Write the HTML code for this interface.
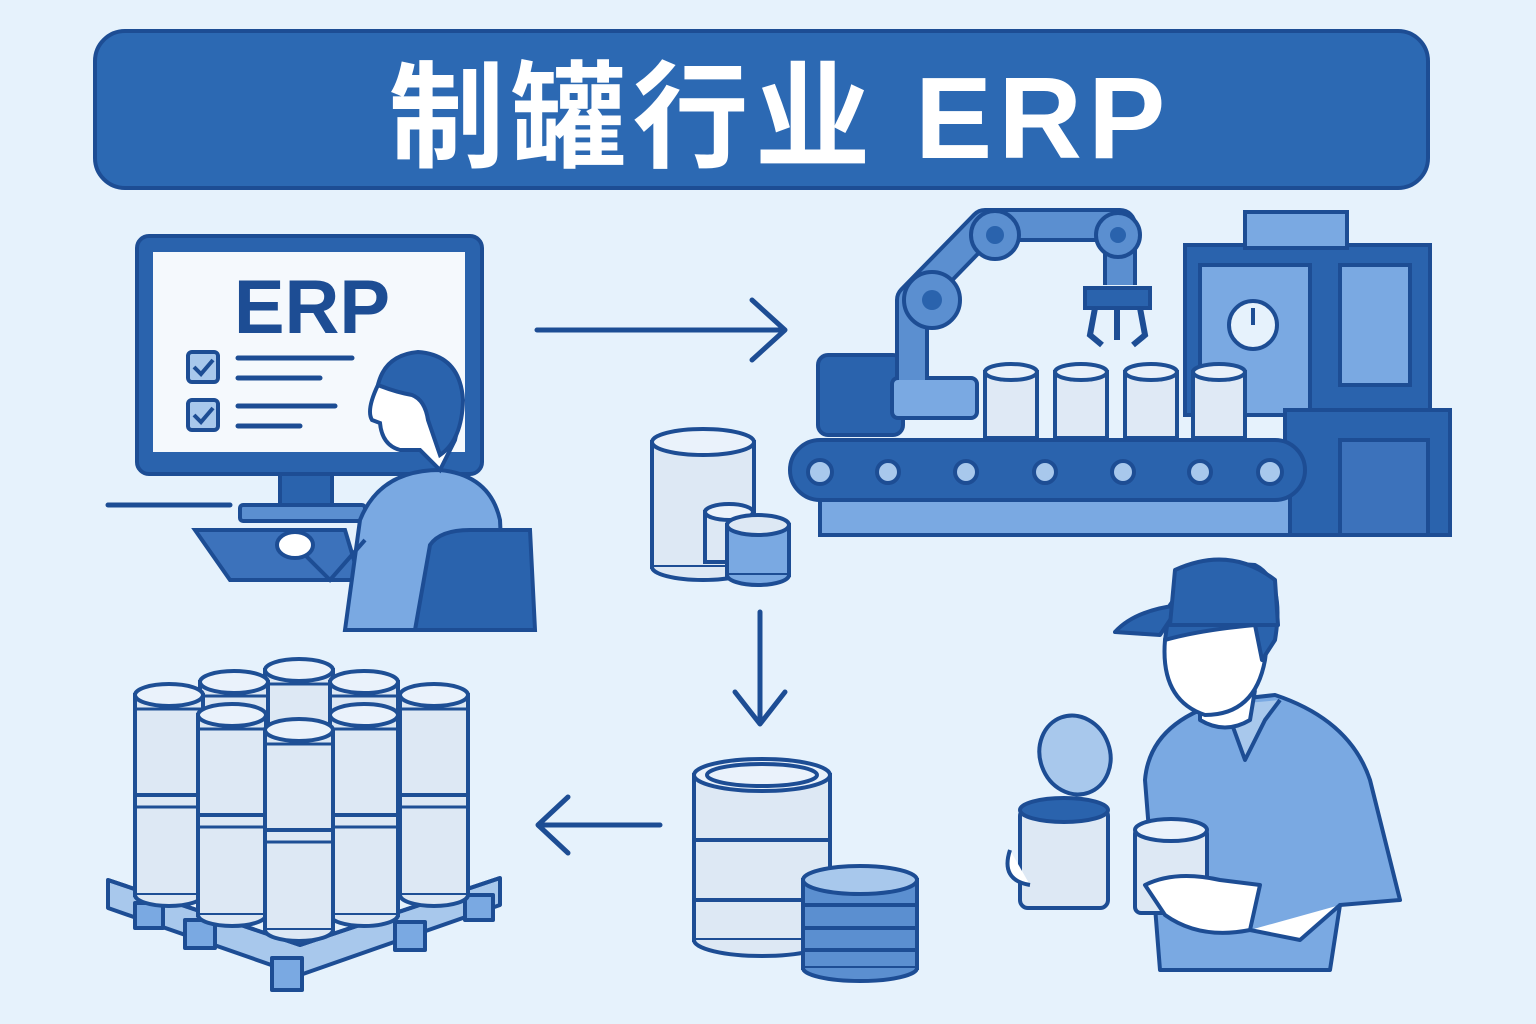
<!DOCTYPE html>
<html><head><meta charset="utf-8"><style>
html,body{margin:0;padding:0;background:#e6f2fc;}
svg{display:block}
</style></head><body>
<svg width="1536" height="1024" viewBox="0 0 1536 1024" xmlns="http://www.w3.org/2000/svg">
<defs>
<g id="can">
 <rect x="0" y="0" width="52" height="66" fill="#dfe9f5" stroke="#1e4f95" stroke-width="4"/>
 <ellipse cx="26" cy="0" rx="26" ry="8" fill="#e9f1fa" stroke="#1e4f95" stroke-width="4"/>
 <path d="M0 66 A26 8 0 0 0 52 66" fill="none" stroke="#1e4f95" stroke-width="4"/>
</g>
<g id="tall">
 <rect x="0" y="0" width="68" height="200" fill="#dde8f4" stroke="#1e4f95" stroke-width="4"/>
 <line x1="0" y1="100" x2="68" y2="100" stroke="#1e4f95" stroke-width="4"/>
 <line x1="0" y1="112" x2="68" y2="112" stroke="#1e4f95" stroke-width="3"/>
 <line x1="0" y1="14" x2="68" y2="14" stroke="#1e4f95" stroke-width="3"/>
 <ellipse cx="34" cy="0" rx="34" ry="11" fill="#eaf2fb" stroke="#1e4f95" stroke-width="4"/>
 <path d="M0 200 A34 11 0 0 0 68 200" fill="#dde8f4" stroke="#1e4f95" stroke-width="4"/>
</g>
</defs>
<rect width="1536" height="1024" fill="#e6f2fc"/>
<!-- title -->
<rect x="95" y="31" width="1333" height="157" rx="30" fill="#2c69b3" stroke="#1d4d94" stroke-width="4"/>
<text x="780" y="158" text-anchor="middle" font-family="'Liberation Sans','Noto Sans CJK SC',sans-serif" font-weight="bold" font-size="116" letter-spacing="6" fill="#fff">制罐行业 ERP</text>

<!-- monitor -->
<rect x="137" y="236" width="345" height="238" rx="12" fill="#2a63ad" stroke="#1d4d94" stroke-width="4"/>
<rect x="153" y="252" width="312" height="200" fill="#f5f9fd"/>
<text x="312" y="333" text-anchor="middle" font-family="'Liberation Sans',sans-serif" font-weight="bold" font-size="76" fill="#1d4d94">ERP</text>
<rect x="188" y="352" width="30" height="30" rx="4" fill="#a8c8ec" stroke="#1d4d94" stroke-width="4"/>
<path d="M194 367 l7 7 l12 -14" fill="none" stroke="#1d4d94" stroke-width="4"/>
<rect x="188" y="400" width="30" height="30" rx="4" fill="#a8c8ec" stroke="#1d4d94" stroke-width="4"/>
<path d="M194 415 l7 7 l12 -14" fill="none" stroke="#1d4d94" stroke-width="4"/>
<g stroke="#1d4d94" stroke-width="5" stroke-linecap="round">
<line x1="238" y1="358" x2="352" y2="358"/><line x1="238" y1="378" x2="320" y2="378"/>
<line x1="238" y1="406" x2="335" y2="406"/><line x1="238" y1="426" x2="300" y2="426"/>
<line x1="108" y1="505" x2="230" y2="505"/>
</g>
<rect x="280" y="474" width="52" height="32" fill="#2a63ad" stroke="#1d4d94" stroke-width="4"/>
<rect x="240" y="505" width="125" height="16" rx="3" fill="#5b8fd0" stroke="#1d4d94" stroke-width="4"/>
<path d="M195 530 L345 530 L360 580 L230 580 Z" fill="#3c72bb" stroke="#1d4d94" stroke-width="4"/>
<!-- person -->
<path d="M345 630 L360 520 Q380 470 440 470 Q490 475 500 520 L505 630 Z" fill="#7aa9e2" stroke="#1d4d94" stroke-width="4"/>
<path d="M365 540 L330 580 L295 545" fill="none" stroke="#1d4d94" stroke-width="4"/>
<ellipse cx="295" cy="545" rx="18" ry="13" fill="#fff" stroke="#1d4d94" stroke-width="4"/>
<path d="M378 385 Q366 410 372 420 L380 423 Q382 445 400 450 L420 450 L440 470 L455 440 Q465 400 455 380 Q440 355 412 358 Q385 360 378 385Z" fill="#fff" stroke="#1d4d94" stroke-width="4"/>
<path d="M378 385 Q385 355 418 352 Q460 355 463 400 Q462 440 440 455 L428 420 Q425 400 412 395 Q395 392 378 385Z" fill="#2a63ad" stroke="#1d4d94" stroke-width="4"/>
<path d="M415 630 L430 545 Q440 530 470 530 L530 530 L535 630 Z" fill="#2a63ad" stroke="#1d4d94" stroke-width="4"/>

<!-- arrows -->
<g fill="none" stroke="#1d4d94" stroke-width="5" stroke-linecap="round" stroke-linejoin="round">
<path d="M537 330 H783 M752 300 L785 330 L752 360"/>
<path d="M760 612 V722 M735 692 L760 724 L785 692"/>
<path d="M660 825 H540 M568 797 L538 825 L568 853"/>
</g>

<!-- machine -->
<rect x="1185" y="245" width="245" height="170" fill="#2a63ad" stroke="#1d4d94" stroke-width="4"/>
<rect x="1245" y="212" width="102" height="36" fill="#7aa9e2" stroke="#1d4d94" stroke-width="4"/>
<rect x="1200" y="265" width="110" height="150" fill="#7aa9e2" stroke="#1d4d94" stroke-width="4"/>
<circle cx="1253" cy="325" r="24" fill="#e6f2fc" stroke="#1d4d94" stroke-width="4"/>
<line x1="1253" y1="325" x2="1253" y2="308" stroke="#1d4d94" stroke-width="4"/>
<rect x="1340" y="265" width="70" height="120" fill="#7aa9e2" stroke="#1d4d94" stroke-width="4"/>
<rect x="1285" y="410" width="165" height="125" fill="#2a63ad" stroke="#1d4d94" stroke-width="4"/>
<rect x="1340" y="440" width="88" height="95" fill="#3c72bb" stroke="#1d4d94" stroke-width="4"/>
<rect x="818" y="355" width="85" height="80" rx="10" fill="#2a63ad" stroke="#1d4d94" stroke-width="4"/>
<!-- robot arm -->
<rect x="892" y="378" width="85" height="40" rx="6" fill="#7aa9e2" stroke="#1d4d94" stroke-width="4"/>
<path d="M912 380 L912 300 L985 225 L1120 225 L1120 285" fill="none" stroke="#1d4d94" stroke-width="34" stroke-linejoin="round"/>
<path d="M912 380 L912 300 L985 225 L1120 225 L1120 285" fill="none" stroke="#5b8fd0" stroke-width="26" stroke-linejoin="round"/>
<circle cx="932" cy="300" r="28" fill="#5b8fd0" stroke="#1d4d94" stroke-width="4"/><circle cx="932" cy="300" r="10" fill="#2a63ad"/>
<circle cx="995" cy="235" r="24" fill="#5b8fd0" stroke="#1d4d94" stroke-width="4"/><circle cx="995" cy="235" r="9" fill="#2a63ad"/>
<circle cx="1118" cy="235" r="22" fill="#5b8fd0" stroke="#1d4d94" stroke-width="4"/><circle cx="1118" cy="235" r="8" fill="#2a63ad"/>
<rect x="1085" y="288" width="65" height="20" fill="#2a63ad" stroke="#1d4d94" stroke-width="4"/>
<path d="M1095 308 L1090 335 L1102 345 M1140 308 L1145 335 L1133 345 M1117 308 V340" fill="none" stroke="#1d4d94" stroke-width="6"/>
<use href="#can" x="985" y="372"/><use href="#can" x="1055" y="372"/><use href="#can" x="1125" y="372"/><use href="#can" x="1193" y="372"/>
<rect x="820" y="495" width="470" height="40" fill="#7aa9e2" stroke="#1d4d94" stroke-width="4"/>
<rect x="790" y="440" width="515" height="60" rx="30" fill="#2a63ad" stroke="#1d4d94" stroke-width="4"/>
<g fill="#a8c8ec" stroke="#1d4d94" stroke-width="4">
<circle cx="820" cy="472" r="12"/><circle cx="888" cy="472" r="11"/><circle cx="966" cy="472" r="11"/><circle cx="1045" cy="472" r="11"/><circle cx="1123" cy="472" r="11"/><circle cx="1200" cy="472" r="11"/><circle cx="1270" cy="472" r="12"/>
</g>

<!-- middle can pile -->
<g stroke="#1d4d94" stroke-width="4">
<rect x="652" y="442" width="102" height="125" fill="#dde8f4"/>
<ellipse cx="703" cy="442" rx="51" ry="13" fill="#eaf2fb"/>
<path d="M652 567 A51 13 0 0 0 754 567" fill="#dde8f4"/>
<rect x="705" y="512" width="48" height="50" fill="#dde8f4"/><ellipse cx="729" cy="512" rx="24" ry="8" fill="#eaf2fb"/>
<rect x="727" y="525" width="62" height="50" fill="#7aa9e2"/><ellipse cx="758" cy="525" rx="31" ry="10" fill="#dde8f4"/>
<path d="M727 575 A31 10 0 0 0 789 575" fill="#7aa9e2"/>
</g>

<!-- bottom middle -->
<g stroke="#1d4d94" stroke-width="4">
<rect x="694" y="775" width="136" height="165" fill="#dde8f4"/>
<line x1="694" y1="840" x2="830" y2="840"/><line x1="694" y1="900" x2="830" y2="900"/>
<path d="M694 940 A68 16 0 0 0 830 940" fill="#dde8f4"/>
<ellipse cx="762" cy="775" rx="68" ry="16" fill="#eaf2fb"/>
<ellipse cx="762" cy="775" rx="55" ry="11" fill="none"/>
<rect x="803" y="880" width="114" height="88" fill="#5b8fd0"/>
<line x1="803" y1="905" x2="917" y2="905"/><line x1="803" y1="928" x2="917" y2="928"/><line x1="803" y1="950" x2="917" y2="950"/>
<path d="M803 968 A57 13 0 0 0 917 968" fill="#5b8fd0"/>
<ellipse cx="860" cy="880" rx="57" ry="14" fill="#a8c8ec"/>
</g>

<!-- pallet -->
<g stroke="#1d4d94" stroke-width="4" stroke-linejoin="round">
<path d="M108 880 L300 945 L500 878 L500 905 L300 975 L108 908 Z" fill="#a8c8ec"/>
<path d="M108 880 L300 945 L500 878" fill="none"/>
<rect x="135" y="903" width="28" height="25" fill="#7aa9e2"/>
<rect x="185" y="920" width="30" height="28" fill="#7aa9e2"/>
<rect x="272" y="958" width="30" height="32" fill="#7aa9e2"/>
<rect x="395" y="922" width="30" height="28" fill="#7aa9e2"/>
<rect x="465" y="895" width="28" height="25" fill="#7aa9e2"/>
</g>
<use href="#tall" x="265" y="670"/>
<use href="#tall" x="200" y="682"/><use href="#tall" x="330" y="682"/>
<use href="#tall" x="135" y="695"/><use href="#tall" x="400" y="695"/>
<use href="#tall" x="198" y="715"/><use href="#tall" x="330" y="715"/>
<use href="#tall" x="265" y="730"/>

<!-- worker -->
<g stroke="#1d4d94" stroke-width="4" stroke-linejoin="round">
<path d="M1160 970 L1145 780 Q1150 720 1230 700 L1275 695 Q1350 720 1370 780 L1400 900 L1340 905 L1330 970 Z" fill="#7aa9e2"/>
<path d="M1225 705 L1245 760 L1265 720 L1280 700" fill="#a8c8ec"/>
<path d="M1200 690 L1200 720 Q1225 735 1250 720 L1255 690" fill="#fff"/>
<path d="M1165 640 Q1160 700 1205 715 Q1255 715 1265 660 L1270 620 L1170 615 Z" fill="#fff"/>
<path d="M1165 640 L1170 605 Q1200 560 1255 565 Q1285 580 1275 640 L1262 660 L1255 625 Q1200 630 1165 640Z" fill="#2a63ad"/>
<path d="M1160 635 L1115 632 Q1135 610 1180 605 Z" fill="#2a63ad"/>
<path d="M1175 570 Q1230 545 1275 580 L1278 625 L1170 625 Z" fill="#2a63ad"/>
<ellipse cx="1075" cy="755" rx="35" ry="40" fill="#a8c8ec" transform="rotate(-20 1075 755)"/>
<rect x="1020" y="808" width="88" height="100" rx="8" fill="#dde8f4"/>
<ellipse cx="1064" cy="810" rx="44" ry="12" fill="#2a63ad"/>
<path d="M1010 850 Q1000 880 1030 885" fill="#fff"/>
<rect x="1135" y="828" width="72" height="85" rx="6" fill="#dde8f4"/>
<ellipse cx="1171" cy="830" rx="36" ry="11" fill="#eaf2fb"/>
<path d="M1145 885 Q1175 870 1220 880 L1260 885 L1250 930 Q1200 940 1165 915 Z" fill="#fff"/>
<path d="M1340 905 L1300 940 L1250 930" fill="#fff"/>
</g>
</svg>
</body></html>
